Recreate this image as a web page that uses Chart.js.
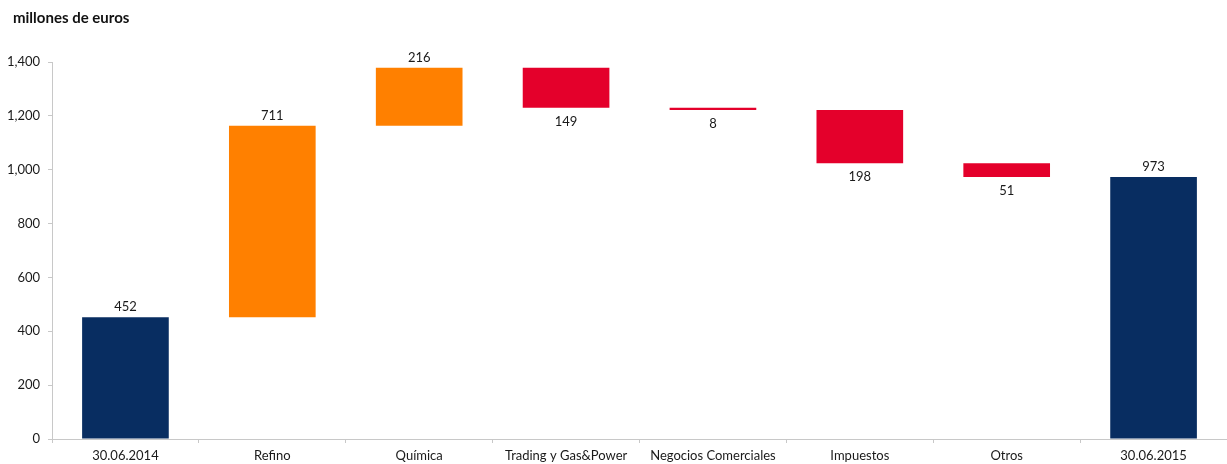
<!DOCTYPE html>
<html>
<head>
<meta charset="utf-8">
<script src="https://cdn.jsdelivr.net/npm/chart.js@4"></script>
<style>
  html, body { margin: 0; padding: 0; background: #fff; }
  #wrap { width: 1227px; height: 464px; position: relative; }
</style>
</head>
<body>
<div id="wrap"><canvas id="Chart"></canvas></div>
<script>
// data
const categories = ['30.06.2014', 'Refino', 'Química', 'Trading y Gas&Power', 'Negocios Comerciales', 'Impuestos', 'Otros', '30.06.2015'];
const changes = [452, 711, 216, -149, -8, -198, -51, 973];
const kinds = ['total', 'up', 'up', 'down', 'down', 'down', 'down', 'total'];
const yTicks = [0, 200, 400, 600, 800, 1000, 1200, 1400];
const title = 'millones de euros';

const colors = { total: '#082d61', up: '#ff8000', down: '#e4002b' };

// build floating ranges
let running = 0;
let ranges = [];
for (let i in changes) {
    if (kinds[i] === 'total') {
        ranges.push([0, changes[i]]);
        running = changes[i];
    } else {
        ranges.push([running, running + changes[i]]);
        running += changes[i];
    }
}

const labelFont = '13px Lato';

let valueLabels = {
    id: 'valueLabels',
    afterDatasetsDraw(chart) {
        let ctx = chart.ctx;
        let meta = chart.getDatasetMeta(0);
        ctx.save();
        ctx.font = labelFont;
        ctx.fillStyle = '#1a1a1a';
        ctx.textAlign = 'center';
        ctx.textBaseline = 'middle';
        meta.data.forEach(function(bar, i) {
            let top = Math.min(bar.y, bar.base);
            let bottom = Math.max(bar.y, bar.base);
            let txt = String(Math.abs(changes[i]));
            if (kinds[i] === 'down') {
                ctx.fillText(txt, bar.x, bottom + 14);
            } else {
                ctx.fillText(txt, bar.x, top - 10);
            }
        });
        // title
        ctx.font = 'bold 15px Lato';
        ctx.textAlign = 'left';
        ctx.fillStyle = '#111';
        ctx.fillText(title, 13, 18);
        ctx.restore();
    }
};

new Chart(document.getElementById('Chart'), {
    type: 'bar',
    data: {
        labels: categories,
        datasets: [{
            data: ranges,
            backgroundColor: kinds.map(k => colors[k]),
            borderWidth: 0,
            categoryPercentage: 1,
            barPercentage: 0.59
        }]
    },
    options: {
        responsive: true,
        maintainAspectRatio: false,
        animation: false,
        layout: { padding: { top: 62, right: 0, bottom: 0, left: 0 } },
        plugins: {
            legend: { display: false },
            tooltip: { enabled: false }
        },
        scales: {
            x: {
                grid: {
                    offset: true,
                    drawOnChartArea: false,
                    drawTicks: true,
                    tickLength: 4,
                    color: '#c8c8c8'
                },
                border: { color: '#c8c8c8', width: 1 },
                ticks: {
                    font: { family: 'Lato', size: 13 },
                    color: '#1a1a1a',
                    maxRotation: 0,
                    autoSkip: false,
                    padding: 5
                },
                afterFit: function(scale) { scale.height = 25; }
            },
            y: {
                min: 0,
                max: 1400,
                afterBuildTicks: function(scale) {
                    scale.ticks = yTicks.map(v => ({ value: v }));
                },
                grid: {
                    drawOnChartArea: false,
                    drawTicks: true,
                    tickLength: 4,
                    color: '#c8c8c8'
                },
                border: { color: '#c8c8c8', width: 1 },
                ticks: {
                    font: { family: 'Lato', size: 13 },
                    color: '#1a1a1a',
                    padding: 8,
                    callback: function(v) { return v.toLocaleString('en-US'); }
                },
                afterFit: function(scale) { scale.width = 52; }
            }
        }
    },
    plugins: [valueLabels]
});
</script>
</body>
</html>
